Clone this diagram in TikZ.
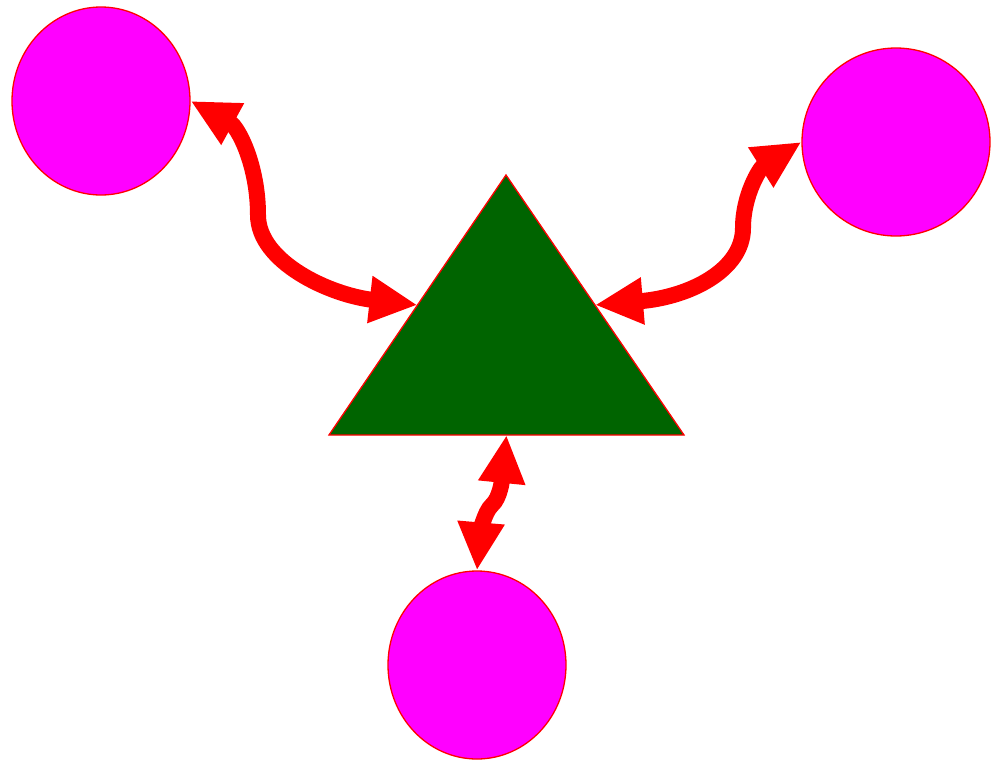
\documentclass[tikz,border=0pt]{standalone}
\usetikzlibrary{shapes.geometric,arrows.meta,calc}
\definecolor{gvgreen}{RGB}{0,100,0}
\definecolor{gvmag}{RGB}{255,0,255}
\begin{document}
\begin{tikzpicture}[x=1pt,y=-1pt,
  blob/.style={ellipse,draw=red,fill=gvmag,line width=1.3pt,inner sep=0pt},
  link/.style={draw=red,line width=16pt,
    {Triangle[length=48pt,width=44pt]}-{Triangle[length=48pt,width=44pt]}}]
\useasboundingbox (0,0) rectangle (996,761);
\node[blob,minimum width=178pt,minimum height=188pt] (a) at (101,101) {};
\node[blob,minimum width=188pt,minimum height=188pt] (b) at (896,142) {};
\node[blob,minimum width=178pt,minimum height=188pt] (c) at (477,665) {};
\coordinate (apex) at (506,175);
\coordinate (bl) at (329,435);
\coordinate (br) at (684,435);
\fill[gvgreen,draw=red,line width=1.3pt] (apex) -- (br) -- (bl) -- cycle;
\coordinate (tL) at ($(apex)!0.5!(bl)$);
\coordinate (tR) at ($(apex)!0.5!(br)$);
\coordinate (tB) at ($(bl)!0.5!(br)$);
\coordinate (m1) at (258,215);
\coordinate (m2) at (743,228);
\coordinate (m3) at (492,505);
\path[link] (a.east) .. controls (238,127) and (258,165) .. (m1)
  .. controls (258,262) and (330,295) .. (tL);
\path[link] (b.west) .. controls (760,168) and (743,195) .. (m2)
  .. controls (743,270) and (690,297) .. (tR);
\path[link] (tB) .. controls (502,480) and (500,498) .. (m3)
  .. controls (484,512) and (480,535) .. (c.north);
\end{tikzpicture}
\end{document}
